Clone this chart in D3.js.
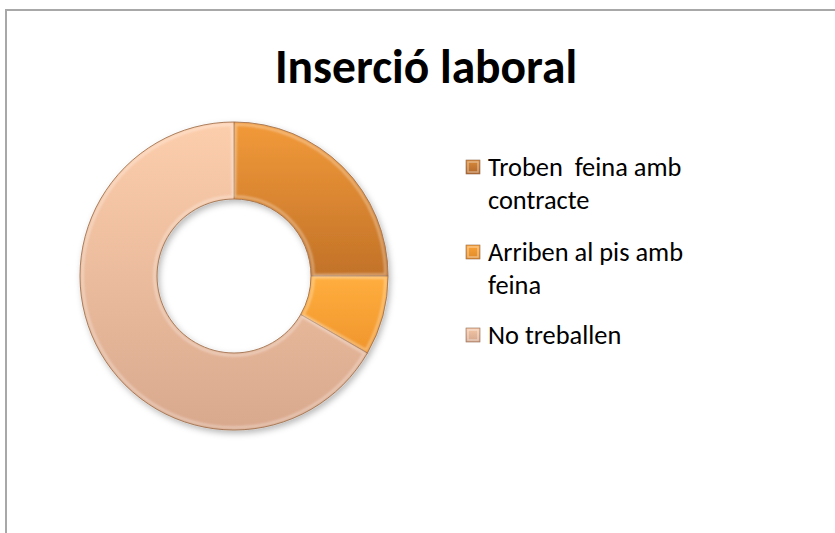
<!DOCTYPE html>
<html>
<head>
<meta charset="utf-8">
<script src="https://cdn.jsdelivr.net/npm/d3@7"></script>
<style>
    html, body { margin: 0; padding: 0; background: #fff; }
    svg { display: block; }
</style>
</head>
<body>
<script>
// data
const categories = ["Troben  feina amb contracte", "Arriben al pis amb feina", "No treballen"];
const legendLines = [["Troben  feina amb", "contracte"], ["Arriben al pis amb", "feina"], ["No treballen"]];
const values = [3, 1, 8];
const titleText = "Inserció laboral";

// slice colours: [top, bottom] of each gradient
const sliceColors = [["#F29A3A", "#C27228"], ["#FFAE3E", "#F0952C"], ["#FDCEAC", "#D9A98E"]];
const swatchColors = [["#D98A3A", "#B0662A"], ["#FBA336", "#DF8A2A"], ["#F6C8A8", "#D2A48B"]];

const width = 835;
const height = 533;
const center = {x: 234, y: 276};
const outerR = 154;
const innerR = 77;
const font = "Carlito, Calibri, Lato, 'Open Sans', sans-serif";

const svg = d3.select(document.body).append("svg")
    .attr("width", width)
    .attr("height", height);

const defs = svg.append("defs");

const shadow = defs.append("filter")
    .attr("id", "shadow")
    .attr("x", "-10%").attr("y", "-10%")
    .attr("width", "125%").attr("height", "125%");
shadow.append("feDropShadow")
    .attr("dx", 2).attr("dy", 3).attr("stdDeviation", 3)
    .attr("flood-color", "#000").attr("flood-opacity", 0.28);

const soft = defs.append("filter").attr("id", "soft");
soft.append("feGaussianBlur").attr("stdDeviation", 1.2);

sliceColors.forEach(([top, bottom], i) => {
    const g = defs.append("linearGradient")
        .attr("id", `slice${i}`)
        .attr("gradientUnits", "userSpaceOnUse")
        .attr("x1", 0).attr("x2", 0)
        .attr("y1", -outerR).attr("y2", outerR);
    g.append("stop").attr("offset", i === 1 ? "0.5" : "0").attr("stop-color", top);
    g.append("stop").attr("offset", i === 0 ? "0.5" : i === 1 ? "0.75" : "1").attr("stop-color", bottom);
});

swatchColors.forEach(([top, bottom], i) => {
    const g = defs.append("linearGradient")
        .attr("id", `swatch${i}`)
        .attr("x1", 0).attr("x2", 0).attr("y1", 0).attr("y2", 1);
    g.append("stop").attr("offset", "0").attr("stop-color", top);
    g.append("stop").attr("offset", "1").attr("stop-color", bottom);
});

// chart area border (runs off the right and bottom edges)
svg.append("rect")
    .attr("x", 6).attr("y", 10)
    .attr("width", width + 20).attr("height", height + 20)
    .attr("fill", "none")
    .attr("stroke", "#a8a8a8")
    .attr("stroke-width", 2);

// title
svg.append("text")
    .text(titleText)
    .attr("x", 426).attr("y", 83)
    .attr("text-anchor", "middle")
    .attr("font-family", font)
    .attr("font-weight", "bold")
    .attr("font-size", 47.5)
    .attr("fill", "#000");

// donut
const pie = d3.pie().sort(null).value(d => d);
const arcs = pie(values);
const arc = d3.arc().innerRadius(innerR).outerRadius(outerR);
const bevelArc = d3.arc().innerRadius(innerR + 2.5).outerRadius(outerR - 2.5);

const donut = svg.append("g")
    .attr("filter", "url(#shadow)")
    .append("g")
    .attr("transform", `translate(${center.x},${center.y})`);

donut.selectAll("path.slice")
    .data(arcs)
    .join("path")
    .attr("class", "slice")
    .attr("d", arc)
    .attr("fill", (d, i) => `url(#slice${i})`)
    .attr("stroke", "#9c6a44")
    .attr("stroke-width", 0.9);

// light rim inside each slice for the bevel look
donut.selectAll("path.rim")
    .data(arcs)
    .join("path")
    .attr("class", "rim")
    .attr("d", d => bevelArc({...d, startAngle: d.startAngle + 0.012, endAngle: d.endAngle - 0.012}))
    .attr("fill", "none")
    .attr("stroke", "#fff")
    .attr("stroke-opacity", 0.35)
    .attr("stroke-width", 2.5)
    .attr("filter", "url(#soft)");

// legend
const legend = svg.append("g");
const lineHeight = 32.5;
const rowStarts = [176, 261, 344];
legendLines.forEach((lines, i) => {
    const row = legend.append("g");
    row.append("rect")
        .attr("x", 466).attr("y", rowStarts[i] - 16)
        .attr("width", 14).attr("height", 14)
        .attr("fill", `url(#swatch${i})`)
        .attr("stroke", "#8f6a50")
        .attr("stroke-width", 0.6);
    row.append("rect")
        .attr("x", 468).attr("y", rowStarts[i] - 14)
        .attr("width", 10).attr("height", 10)
        .attr("fill", "none")
        .attr("stroke", "#fff")
        .attr("stroke-opacity", 0.4)
        .attr("stroke-width", 1.5);
    lines.forEach((line, j) => {
        row.append("text")
            .text(line)
            .attr("x", 488)
            .attr("y", rowStarts[i] + j * lineHeight)
            .attr("font-family", font)
            .attr("font-size", 26.4)
            .attr("fill", "#000")
            .style("white-space", "pre");
    });
});
</script>
</body>
</html>
